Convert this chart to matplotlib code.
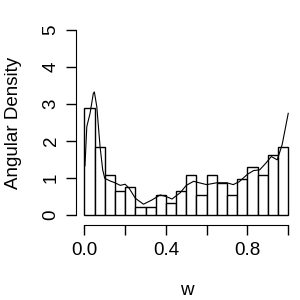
import numpy as np
import matplotlib
matplotlib.use('Agg')
import matplotlib.pyplot as plt

plt.rcParams['font.family'] = ['Liberation Sans', 'DejaVu Sans']

# histogram: 20 bins over [0, 1], density heights
bin_edges = np.linspace(0, 1, 21)
heights = [2.90, 1.83, 1.08, 0.65, 0.75, 0.22, 0.22, 0.54, 0.32, 0.65,
           1.08, 0.54, 1.08, 0.86, 0.54, 0.97, 1.29, 1.08, 1.61, 1.83]

# kernel density line
dens_x = [0.003, 0.012, 0.028, 0.044, 0.049, 0.061, 0.077, 0.09, 0.10, 0.126,
          0.15, 0.176, 0.2, 0.22, 0.25, 0.29, 0.33, 0.372, 0.40, 0.43,
          0.47, 0.50, 0.536, 0.57, 0.60, 0.65, 0.70, 0.73, 0.76, 0.80,
          0.83, 0.86, 0.89, 0.917, 0.946, 0.97, 1.0]
dens_y = [1.33, 2.39, 2.75, 3.29, 3.33, 2.93, 1.85, 1.22, 0.99, 0.92,
          0.87, 0.80, 0.83, 0.72, 0.45, 0.29, 0.40, 0.54, 0.50, 0.43,
          0.60, 0.80, 0.91, 0.86, 0.82, 0.87, 0.87, 0.82, 0.90, 1.10,
          1.20, 1.22, 1.40, 1.58, 1.49, 1.90, 2.75]

x_ticks = [0.0, 0.2, 0.4, 0.6, 0.8, 1.0]
x_labels = ['0.0', '', '0.4', '', '0.8', '']
y_ticks = [0, 1, 2, 3, 4, 5]

fig = plt.figure(figsize=(3, 3), dpi=100)
ax = fig.add_axes([0.254, 0.259, 0.734, 0.665])

ax.bar(bin_edges[:-1], heights, width=np.diff(bin_edges), align='edge',
       color='white', edgecolor='black', linewidth=1)
ax.plot(dens_x, dens_y, color='black', linewidth=0.8)

ax.set_xlim(-0.04, 1.04)
ax.set_ylim(-0.2, 5.2)

for s in ['top', 'right']:
    ax.spines[s].set_visible(False)
ax.spines['left'].set_bounds(0, 5)
ax.spines['bottom'].set_bounds(0, 1)
ax.spines['bottom'].set_position(('outward', 2))

ax.set_xticks(x_ticks)
ax.set_xticklabels(x_labels)
ax.set_yticks(y_ticks)
ax.set_yticklabels([str(t) for t in y_ticks], rotation=90, va='center')
ax.tick_params(axis='both', length=7, width=1, labelsize=13.5, pad=5)

ax.set_xlabel('w', fontsize=13.5, labelpad=17)
ax.set_ylabel('Angular Density', fontsize=13.5, labelpad=15)

fig.savefig('out.png', dpi=100)
